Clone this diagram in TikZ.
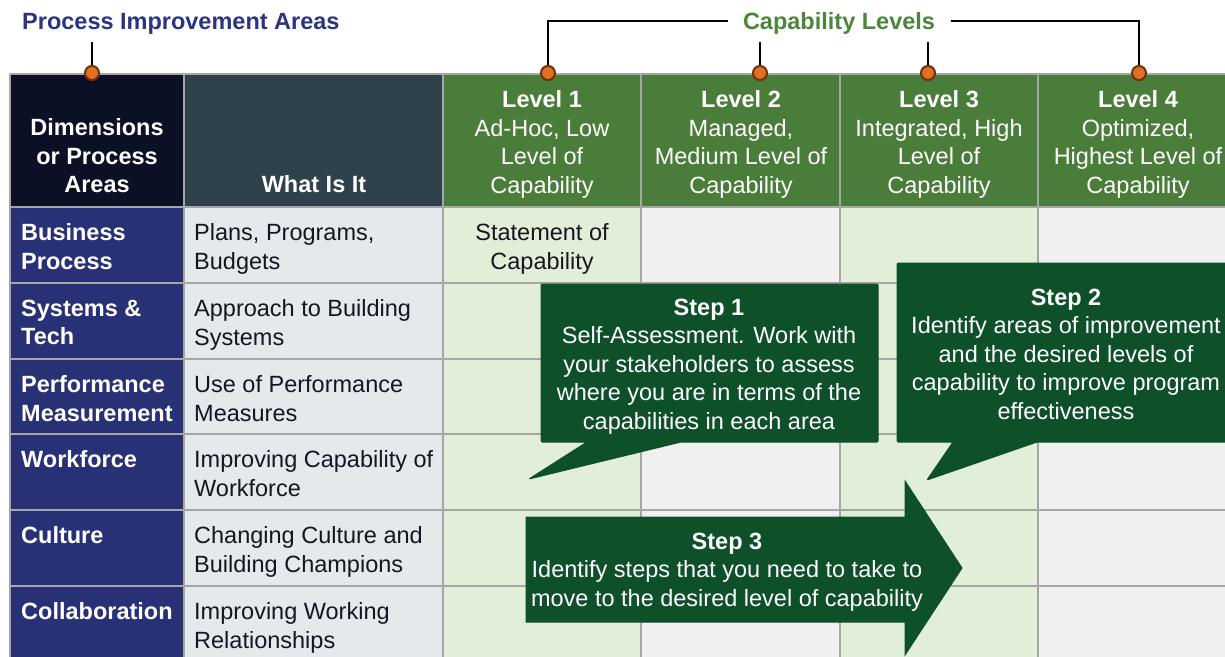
\documentclass[tikz,border=0pt]{standalone}
\usepackage{fontspec}
\setmainfont{Liberation Sans}
\usetikzlibrary{positioning}

\definecolor{navytitle}{RGB}{43,52,128}
\definecolor{greentitle}{RGB}{76,134,60}
\definecolor{headdark}{RGB}{11,16,36}
\definecolor{headslate}{RGB}{46,65,76}
\definecolor{headgreen}{RGB}{74,125,58}
\definecolor{rowblue}{RGB}{40,49,118}
\definecolor{cellblue}{RGB}{228,233,236}
\definecolor{cellgreen}{RGB}{226,239,216}
\definecolor{cellgray}{RGB}{240,240,240}
\definecolor{gridgray}{RGB}{166,166,166}
\definecolor{stepgreen}{RGB}{13,80,41}
\definecolor{dotorange}{RGB}{226,112,34}
\definecolor{dotbrown}{RGB}{110,50,10}
\definecolor{celltext}{RGB}{22,22,34}

\tikzset{
  every node/.style={inner sep=0pt, font=\fontsize{23.5}{28.5}\selectfont},
  cell/.style={draw=gridgray, line width=1.6pt},
  headtext/.style={text=white, align=center, anchor=north},
  rowlabel/.style={text=white, font=\fontsize{23.5}{28.5}\selectfont\bfseries, align=left, anchor=north west},
  whattext/.style={text=celltext, align=left, anchor=north west},
  steptext/.style={text=white, align=center, anchor=north},
  leader/.style={line width=2.2pt, black},
  dot/.style={circle, minimum size=14pt, fill=dotorange, draw=dotbrown, line width=2pt},
  stepshape/.style={fill=stepgreen, draw=stepgreen, line width=1pt, rounded corners=1pt}
}

\begin{document}
\begin{tikzpicture}[x=1pt, y=-1pt]
    \useasboundingbox (0,0) rectangle (1225,656);
    \fill[white] (0,0) rectangle (1225,656);

    % header row
    \fill[headdark] (10,74) rectangle (184,207);
    \fill[headslate] (184,74) rectangle (443,207);
    \fill[headgreen] (443,74) rectangle (1237,207);

    % body columns
    \fill[rowblue] (10,207) rectangle (184,662);
    \fill[cellblue] (184,207) rectangle (443,662);
    \foreach \xa/\xb/\c in {443/641/cellgreen, 641/840/cellgray, 840/1038/cellgreen, 1038/1237/cellgray}
      \fill[\c] (\xa,207) rectangle (\xb,662);

    % grid
    \foreach \y in {207, 283, 359, 434, 510, 586}
      \draw[cell] (10,\y) -- (1237,\y);
    \draw[cell] (10,74) -- (1237,74);
    \foreach \x in {10, 184, 443, 641, 840, 1038}
      \draw[cell] (\x,74) -- (\x,662);

    % headings
    \node[headtext, font=\fontsize{23.5}{28.5}\selectfont\bfseries] (hdim) at (97,118.6) {Dimensions\\or Process\\Areas};
    \node[headtext, font=\fontsize{23.5}{28.5}\selectfont\bfseries] (hwhat) at (314,175.6) {What Is It};
    \node[headtext] (lev1) at (542,90.6) {\textbf{Level 1}\\Ad-Hoc, Low\\Level of\\Capability};
    \node[headtext] (lev2) at (741,90.6) {\textbf{Level 2}\\Managed,\\Medium Level of\\Capability};
    \node[headtext] (lev3) at (939,90.6) {\textbf{Level 3}\\Integrated, High\\Level of\\Capability};
    \node[headtext] (lev4) at (1138,90.6) {\textbf{Level 4}\\Optimized,\\Highest Level of\\Capability};

    % rows
    \foreach \y/\lab/\what [count=\i] in {
        207/{Business\\Process}/{Plans, Programs,\\Budgets},
        283/{Systems \&\\Tech}/{Approach to Building\\Systems},
        359/{Performance\\Measurement}/{Use of Performance\\Measures},
        434/{Workforce}/{Improving Capability of\\Workforce},
        510/{Culture}/{Changing Culture and\\Building Champions},
        586/{Collaboration}/{Improving Working\\Relationships}} {
      \node[rowlabel] (area\i) at (21,\y+16.6) {\lab};
      \node[whattext] (what\i) at (194,\y+16.6) {\what};
    }
    \node[text=celltext, align=center, anchor=north] (stmt) at (542,223.6) {Statement of\\Capability};

    % titles and leaders
    \node[text=navytitle, font=\fontsize{23.5}{28.5}\selectfont\bfseries, anchor=west] (pia) at (22,23.5) {Process Improvement Areas};
    \node[text=greentitle, font=\fontsize{23.5}{28.5}\selectfont\bfseries] (caplev) at (839,23.5) {Capability Levels};

    \node[dot] (dotpia) at (92,73) {};
    \node[dot] (dot1) at (548,73) {};
    \node[dot] (dot2) at (760,73) {};
    \node[dot] (dot3) at (928,73) {};
    \node[dot] (dot4) at (1139,73) {};

    \coordinate (capl) at (728,21);
    \coordinate (capr) at (951,21);
    \draw[leader] (dotpia.north) -- (92,42);
    \draw[leader] (capl) -| (dot1.north);
    \draw[leader] (capr) -| (dot4.north);
    \draw[leader] (dot2.north) -- (760,42);
    \draw[leader] (dot3.north) -- (928,42);

    % steps
    \draw[stepshape] (541,284) -- (878,284) -- (878,442) -- (681,442) -- (529,479) -- (587,442) -- (541,442) -- cycle;
    \draw[stepshape] (897,263) -- (1240,263) -- (1240,442) -- (1037,442) -- (927,480) -- (953,442) -- (897,442) -- cycle;
    \draw[stepshape, rounded corners=0pt] (526,517) -- (905,517) -- (905,481) -- (962,568) -- (905,655) -- (905,622) -- (526,622) -- cycle;

    \node[steptext] (step1) at (709,298.6) {\textbf{Step 1}\\Self-Assessment. Work with\\your stakeholders to assess\\where you are in terms of the\\capabilities in each area};
    \node[steptext] (step2) at (1066,288.6) {\textbf{Step 2}\\Identify areas of improvement\\and the desired levels of\\capability to improve program\\effectiveness};
    \node[steptext] (step3) at (727,532.6) {\textbf{Step 3}\\Identify steps that you need to take to\\move to the desired level of capability};
\end{tikzpicture}
\end{document}
